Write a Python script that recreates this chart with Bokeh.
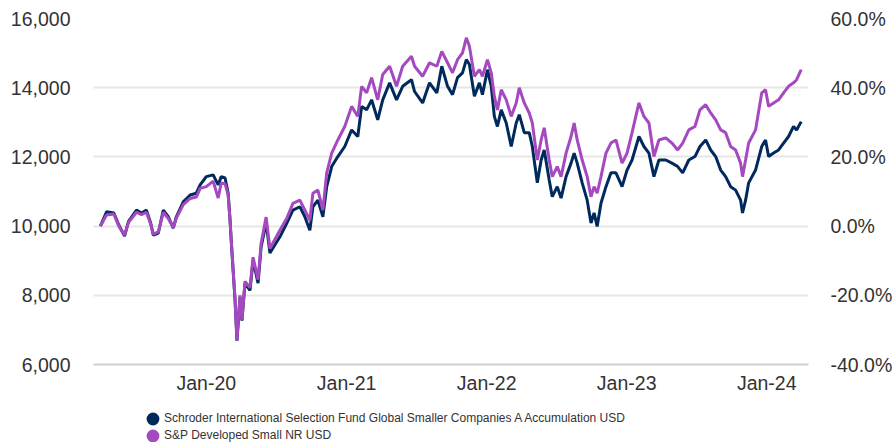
import pandas as pd
from bokeh.plotting import figure
from bokeh.layouts import column
from bokeh.models import (ColumnDataSource, Range1d, LinearAxis, FixedTicker,
                          NumeralTickFormatter, DatetimeTickFormatter, Legend, LegendItem)
from bokeh.embed import file_html
from bokeh.resources import INLINE

# ---------------- data ----------------
series_names = ["Schroder International Selection Fund Global Smaller Companies A Accumulation USD",
                "S&P Developed Small NR USD"]

dates = [
    "2019-03-31", "2019-04-16", "2019-05-05", "2019-05-18", "2019-06-02", "2019-06-12", "2019-07-03",
    "2019-07-16", "2019-07-29", "2019-08-09", "2019-08-16", "2019-08-29", "2019-09-11", "2019-09-24",
    "2019-10-07", "2019-10-15", "2019-11-02", "2019-11-20", "2019-12-06", "2019-12-16",
    "2020-01-01", "2020-01-19", "2020-02-01", "2020-02-09", "2020-02-19", "2020-02-27", "2020-03-03",
    "2020-03-06", "2020-03-16", "2020-03-21", "2020-03-29", "2020-04-03", "2020-04-11", "2020-04-24",
    "2020-05-02", "2020-05-15", "2020-05-23", "2020-06-05", "2020-06-15", "2020-07-11", "2020-07-29",
    "2020-08-14", "2020-09-01", "2020-09-14", "2020-09-27", "2020-10-05", "2020-10-18", "2020-10-31",
    "2020-11-10", "2020-11-23", "2020-12-09", "2020-12-27",
    "2021-01-14", "2021-01-30", "2021-02-09", "2021-02-22", "2021-03-07", "2021-03-23", "2021-04-05",
    "2021-04-23", "2021-05-11", "2021-05-27", "2021-06-19", "2021-06-27", "2021-07-18", "2021-08-05",
    "2021-08-24", "2021-09-06", "2021-09-21", "2021-10-04", "2021-10-17", "2021-10-30", "2021-11-09",
    "2021-11-17", "2021-11-30", "2021-12-13", "2021-12-21",
    "2022-01-03", "2022-01-13", "2022-01-21", "2022-01-29", "2022-02-08", "2022-02-21", "2022-03-06",
    "2022-03-19", "2022-03-27", "2022-04-09", "2022-04-22", "2022-04-30", "2022-05-13", "2022-05-23",
    "2022-05-31", "2022-06-13", "2022-06-21", "2022-07-04", "2022-07-14", "2022-07-27", "2022-08-09",
    "2022-08-17", "2022-08-25", "2022-09-07", "2022-09-20", "2022-09-30", "2022-10-08", "2022-10-16",
    "2022-10-26", "2022-11-08", "2022-11-21", "2022-12-04", "2022-12-20",
    "2023-01-02", "2023-01-15", "2023-02-02", "2023-02-15", "2023-02-28", "2023-03-13", "2023-03-26",
    "2023-04-13", "2023-04-29", "2023-05-14", "2023-05-27", "2023-06-12", "2023-06-28", "2023-07-11",
    "2023-07-26", "2023-08-08", "2023-08-21", "2023-09-03", "2023-09-16", "2023-09-29", "2023-10-12",
    "2023-10-25", "2023-10-30", "2023-11-07", "2023-11-15", "2023-12-03", "2023-12-19", "2023-12-29",
    "2024-01-06", "2024-01-19", "2024-02-01", "2024-02-14", "2024-02-27", "2024-03-11", "2024-03-19",
    "2024-03-31",
]

fund = [
    10000, 10415, 10380, 10030, 9710, 10130, 10460, 10380, 10460, 10090, 9740, 9800, 10460, 10270,
    9940, 10270, 10700, 10900, 10950, 11190,
    11430, 11480, 11190, 11430, 11390, 10950, 10170, 9590, 7850, 6690, 7950, 7270, 8350, 8140,
    9010, 8350, 9400, 10100, 9220, 9690, 10090, 10460, 10560, 10270, 9880, 10560, 10750, 10270,
    11140, 11720, 12010, 12300,
    12780, 12590, 13460, 13360, 13650, 13070, 13650, 14140, 13650, 14040, 14230, 13890, 13560, 14140,
    13850, 14620, 14040, 13800, 14290, 14430, 14810, 14670, 13750, 14140, 13800,
    14520, 14040, 13170, 12880, 13360, 12980, 12300, 12980, 13220, 12700, 12700, 12300, 11250, 11910,
    12200, 11330, 10850, 11140, 10810, 11430, 11820, 12110, 11820, 11250, 10750, 10090, 10380, 9990,
    10660, 11140, 11540, 11540, 11140,
    11620, 11910, 12590, 12300, 12110, 11430, 11910, 11910, 11820, 11720, 11540, 11910, 12010, 12300,
    12490, 12200, 12010, 11620, 11430, 11140, 11040, 10750, 10380, 10750, 11250, 11620, 12300, 12490,
    12010, 12110, 12200, 12400, 12590, 12880, 12780, 13020,
]

benchmark = [
    10000, 10320, 10350, 10000, 9740, 10100, 10400, 10330, 10400, 10060, 9770, 9830, 10400, 10220,
    9960, 10230, 10620, 10800, 10840, 11090,
    11140, 11300, 10810, 11250, 11220, 10900, 10170, 9600, 7900, 6700, 8000, 7300, 8400, 8220,
    9100, 8450, 9500, 10260, 9350, 9880, 10230, 10660, 10750, 10460, 10170, 10950, 11040, 10460,
    11540, 12110, 12490, 12880,
    13460, 13170, 14040, 13850, 14290, 13650, 14380, 14620, 14040, 14620, 14910, 14620, 14330, 14720,
    14620, 15050, 14720, 14430, 14810, 15010, 15440, 15200, 14330, 14520, 14330,
    14810, 14430, 13750, 13360, 13940, 13650, 13170, 13560, 14000, 13560, 13270, 12980, 11910, 12490,
    12840, 11910, 11430, 11720, 11430, 12110, 12590, 12980, 12490, 11910, 11430, 10850, 11140, 10950,
    11430, 12110, 12400, 12490, 11820,
    12110, 12700, 13560, 13170, 12980, 12010, 12490, 12550, 12400, 12200, 12400, 12780, 12880, 13360,
    13510, 13270, 13070, 12780, 12700, 12300, 12200, 11820, 11430, 11910, 12400, 12780, 13850, 13940,
    13460, 13560, 13650, 13850, 14040, 14140, 14230, 14520,
]

x_tick_dates = ["2020-01-01", "2021-01-01", "2022-01-01", "2023-01-01", "2024-01-01"]
left_ticks = [6000, 8000, 10000, 12000, 14000, 16000]
right_ticks = [-0.4, -0.2, 0.0, 0.2, 0.4, 0.6]

assert len(dates) == len(fund) == len(benchmark)

# ---------------- styling ----------------
NAVY = "#002A5C"
PURPLE = "#A449BF"
TEXT = "#333333"
FONT = "Liberation Sans"
TICK_FS = "19.5px"

src = ColumnDataSource(dict(date=pd.to_datetime(dates), fund=fund, bench=benchmark))
x_range = Range1d(pd.Timestamp("2019-03-13"), pd.Timestamp("2024-04-19"))

p = figure(width=895, height=400, x_axis_type="datetime", output_backend="svg",
           toolbar_location=None, x_range=x_range,
           y_range=Range1d(left_ticks[0], left_ticks[-1]),
           min_border_left=93, min_border_right=85, min_border_top=18, min_border_bottom=36)
p.outline_line_color = None
p.background_fill_color = "white"
p.border_fill_color = "white"

p.extra_y_ranges = {"pct": Range1d(right_ticks[0], right_ticks[-1])}

p.line("date", "fund", source=src, color=NAVY, line_width=3)
p.line("date", "bench", source=src, color=PURPLE, line_width=3)

# axes
xaxis = p.xaxis[0]
xaxis.ticker = FixedTicker(ticks=[pd.Timestamp(d).value / 1e6 for d in x_tick_dates])
xaxis.formatter = DatetimeTickFormatter(years="%b-%y", months="%b-%y", days="%b-%y",
                                        hours="%b-%y", minutes="%b-%y", seconds="%b-%y",
                                        milliseconds="%b-%y")
xaxis.major_tick_line_color = None
xaxis.minor_tick_line_color = None
xaxis.major_tick_out = 0
xaxis.major_tick_in = 0
xaxis.minor_tick_out = 0
xaxis.axis_line_color = "#d0d0d0"
xaxis.axis_line_width = 2
xaxis.major_label_standoff = 7
xaxis.major_label_text_font = FONT
xaxis.major_label_text_font_size = TICK_FS
xaxis.major_label_text_color = TEXT

yaxis = p.yaxis[0]
yaxis.ticker = FixedTicker(ticks=left_ticks)
yaxis.formatter = NumeralTickFormatter(format="0,0")
yaxis.axis_line_color = None
yaxis.major_tick_line_color = None
yaxis.minor_tick_line_color = None
yaxis.major_tick_out = 0
yaxis.major_tick_in = 0
yaxis.minor_tick_out = 0
yaxis.major_label_standoff = 23
yaxis.major_label_text_font = FONT
yaxis.major_label_text_font_size = TICK_FS
yaxis.major_label_text_color = TEXT

raxis = LinearAxis(y_range_name="pct", ticker=FixedTicker(ticks=right_ticks),
                   formatter=NumeralTickFormatter(format="0.0%"))
raxis.axis_line_color = None
raxis.major_tick_line_color = None
raxis.minor_tick_line_color = None
raxis.major_tick_out = 0
raxis.major_tick_in = 0
raxis.minor_tick_out = 0
raxis.major_label_standoff = 22
raxis.major_label_text_font = FONT
raxis.major_label_text_font_size = TICK_FS
raxis.major_label_text_color = TEXT
p.add_layout(raxis, "right")

p.xgrid.visible = False
p.ygrid.ticker = FixedTicker(ticks=left_ticks)
p.ygrid.grid_line_color = "#e6e6e6"
p.ygrid.grid_line_width = 2

# ---------------- legend strip ----------------
lg = figure(width=895, height=42, x_axis_location=None, y_axis_location=None,
            output_backend="svg", toolbar_location=None, x_range=x_range,
            y_range=Range1d(0, 1), min_border=0)
lg.outline_line_color = None
lg.grid.visible = False
lg.background_fill_color = "white"
lg.border_fill_color = "white"
# marker renderers for the legend keys (their points fall outside this strip's range)
k1 = lg.scatter("date", "fund", source=src, marker="circle", fill_color=NAVY,
                line_color=NAVY, line_width=6)
k2 = lg.scatter("date", "bench", source=src, marker="circle", fill_color=PURPLE,
                line_color=PURPLE, line_width=6)

legend = Legend(items=[LegendItem(label=series_names[0], renderers=[k1]),
                       LegendItem(label=series_names[1], renderers=[k2])],
                location=(51, -1.5), orientation="vertical",
                glyph_width=17, glyph_height=17, label_height=17,
                label_standoff=3, spacing=0, padding=0, margin=0,
                label_text_font=FONT, label_text_font_size="12px", label_text_color=TEXT,
                border_line_color=None, background_fill_alpha=0)
lg.add_layout(legend)

layout = column(p, lg, spacing=0)
open("out.html", "w").write(file_html(layout, INLINE))
